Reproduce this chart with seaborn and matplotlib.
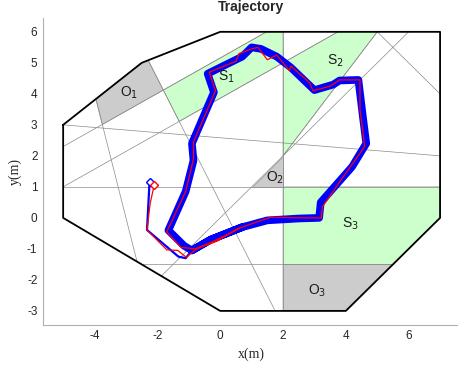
import matplotlib
matplotlib.use('Agg')

import pandas as pd
import matplotlib.pyplot as plt
import seaborn as sns

# workspace boundary (octagon)
bound_x = [-5, -2.5, 0, 7, 7, 4, 0, -5, -5]
bound_y = [3, 5, 6, 6, 0, -3, -3, 0, 3]

# partition lines, one pair of end points each
part_x = [[-5, 7], [-5, 7], [-2.5, 5.5], [2, 2], [-1.875, 6], [5, 7],
          [-2.292, 1.75], [-5, 1.475], [-5, 3.75], [-3.958, -2.647], [2, 5]]
part_y = [[3, 2], [1, 1], [-1.5, -1.5], [6, -3], [-1.875, 6], [6, 4],
          [5.083, -3], [2.3, 6], [1, 6], [3.833, -1.412], [2, 6]]

# obstacles (gray) and target regions (green)
obst_names = ['O$_1$', 'O$_2$', 'O$_3$']
obst_x = [[-3.958, -2.5, -2.292, -1.811, -3.753], [1, 2, 2], [2, 5.5, 4, 2]]
obst_y = [[3.833, 5, 5.083, 4.122, 3.012], [1, 1, 2], [-1.5, -1.5, -3, -3]]
obst_lab = [(-2.9, 4.05), (1.75, 1.3), (3.1, -2.35)]

goal_names = ['S$_1$', 'S$_2$', 'S$_3$']
goal_x = [[-1.811, 1.475, 2, 2, -1.306], [2, 3.75, 5, 2], [2, 7, 7, 5.5, 2]]
goal_y = [[4.122, 6, 6, 5, 3.112], [5, 6, 6, 2], [1, 1, 0, -1.5, -1.5]]
goal_lab = [(0.2, 4.55), (3.65, 5.05), (4.15, -0.2)]

# trajectories (blue: repeated runs, red: one run)
blue_x = [-2.25, -2.33, -1.33, -1.1, -0.9, -0.3, 0.7, 1.5, 2.5, 3.15, 3.2, 4.2, 4.65,
          4.55, 4.4, 3.8, 3.6, 3.0, 2.25, 1.8, 1.3, 1.0, 0.7, -0.4, -0.2, -0.9, -0.85,
          -1.1, -1.65, -1.15, -0.9, -0.3, 0.7]
blue_y = [1.17, -0.39, -1.25, -1.3, -1.05, -0.7, -0.3, -0.08, -0.02, 0.0, 0.5, 1.65, 2.4,
          3.2, 4.45, 4.43, 4.3, 4.12, 4.85, 5.2, 5.45, 5.5, 5.2, 4.65, 4.05, 2.4, 1.85,
          0.85, -0.4, -0.9, -1.05, -0.7, -0.3]
red_x = [-2.1, -2.23, -2.33, -1.7, -1.35, -1.08, -0.75, -0.1, 0.55, 0.75, 1.4, 1.6, 2.6,
         3.22, 3.25, 3.9, 4.6, 4.45, 4.45, 3.8, 3.5, 2.95, 2.85, 2.25, 2.2, 1.8, 1.5,
         1.2, 1.0, 0.6, 0.5, -0.35, -0.15, -0.85, -0.85, -1.1, -1.7, -1.25, -0.8, -0.2, 0.6]
red_y = [1.06, 0.47, -0.39, -1.03, -1.05, -1.27, -1.0, -0.75, -0.35, -0.28, -0.05, 0.02,
         0.0, 0.0, 0.35, 1.3, 2.3, 3.5, 4.45, 4.45, 4.25, 4.1, 4.35, 4.9, 4.75, 5.25,
         5.1, 5.5, 5.45, 5.3, 5.05, 4.7, 4.1, 2.45, 1.9, 0.85, -0.45, -0.95, -1.0, -0.75, -0.35]

sns.set_style('white')
plt.rcParams['font.family'] = ['Liberation Sans', 'DejaVu Sans']
plt.rcParams['axes.unicode_minus'] = False


def path(ax, xs, ys, **kw):
    # draw points in the given order, no aggregation
    sns.lineplot(x=xs, y=ys, sort=False, estimator=None, errorbar=None, ax=ax, **kw)
    return ax.lines[-1]


fig = plt.figure(figsize=(4.58, 3.65), dpi=100)
ax = fig.add_axes([0.094, 0.11, 0.908, 0.841])

for px, py in zip(goal_x, goal_y):
    ax.fill(px, py, facecolor='#ccffcc', edgecolor='#9a9a9a', linewidth=0.5, zorder=1)
for px, py in zip(obst_x, obst_y):
    ax.fill(px, py, facecolor='#cccccc', edgecolor='#9a9a9a', linewidth=0.5, zorder=1)

for lx, ly in zip(part_x, part_y):
    path(ax, lx, ly, color='#8a8a8a', linewidth=0.5, zorder=2)

path(ax, bound_x, bound_y, color='black', linewidth=1.3, zorder=3)

# thin start branch, then the thick repeated loop
path(ax, blue_x[:5], blue_y[:5], color='blue', linewidth=1.6, zorder=4)
loop = path(ax, blue_x[4:], blue_y[4:], color='blue', linewidth=5.5, zorder=4)
loop.set_solid_joinstyle('round')
path(ax, red_x, red_y, color='red', linewidth=0.9, zorder=5)

ax.plot(blue_x[0], blue_y[0], marker='D', markersize=4, markerfacecolor='white',
        markeredgecolor='blue', markeredgewidth=1, zorder=6)
ax.plot(red_x[0], red_y[0], marker='D', markersize=4, markerfacecolor='white',
        markeredgecolor='red', markeredgewidth=1, zorder=6)

for name, (tx, ty) in zip(obst_names + goal_names, obst_lab + goal_lab):
    ax.text(tx, ty, name, fontsize=10, ha='center', va='center', color='#1a1a1a', zorder=7)

ax.set_xlim(-5.64, 7.6)
ax.set_ylim(-3.45, 6.45)
ax.set_xticks([-4, -2, 0, 2, 4, 6])
ax.set_yticks([-3, -2, -1, 0, 1, 2, 3, 4, 5, 6])
ax.tick_params(direction='in', length=3, width=0.6, color='#b0b0b0',
               labelsize=8.5, labelcolor='#262626', pad=4)
for side in ['top', 'right']:
    ax.spines[side].set_visible(False)
for side in ['left', 'bottom']:
    ax.spines[side].set_color('#b0b0b0')
    ax.spines[side].set_linewidth(0.8)

ax.set_xlabel('x(m)', family='Liberation Serif', fontsize=10, color='#262626')
ax.set_ylabel('y(m)', family='Liberation Serif', fontsize=10, color='#262626')
ax.set_title('Trajectory', fontsize=10, fontweight='bold', pad=5)

plt.savefig('out.png', dpi=100)
plt.close()
